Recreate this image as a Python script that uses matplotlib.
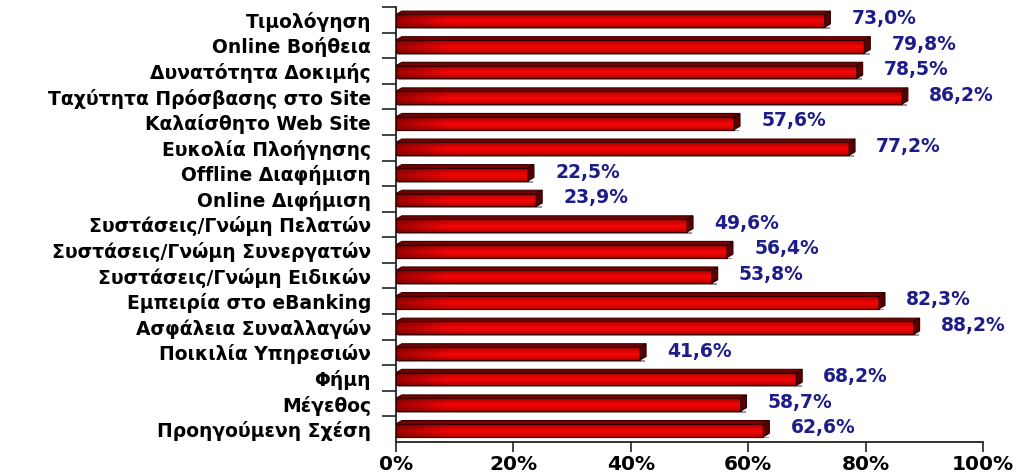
import matplotlib
matplotlib.use("Agg")
import matplotlib.pyplot as plt
import numpy as np
from matplotlib.patches import Polygon, Rectangle
from matplotlib.ticker import FixedLocator

plt.rcParams['font.family'] = ['DejaVu Sans']

categories = [
    "Τιμολόγηση", "Online Βοήθεια", "Δυνατότητα Δοκιμής",
    "Ταχύτητα Πρόσβασης στο Site", "Καλαίσθητο Web Site", "Ευκολία Πλοήγησης",
    "Offline Διαφήμιση", "Online Διφήμιση", "Συστάσεις/Γνώμη Πελατών",
    "Συστάσεις/Γνώμη Συνεργατών", "Συστάσεις/Γνώμη Ειδικών",
    "Εμπειρία στο eBanking", "Ασφάλεια Συναλλαγών", "Ποικιλία Υπηρεσιών",
    "Φήμη", "Μέγεθος", "Προηγούμενη Σχέση",
]
values = [73.0, 79.8, 78.5, 86.2, 57.6, 77.2, 22.5, 23.9, 49.6, 56.4,
          53.8, 82.3, 88.2, 41.6, 68.2, 58.7, 62.6]
value_labels = ["73,0%", "79,8%", "78,5%", "86,2%", "57,6%", "77,2%", "22,5%",
                "23,9%", "49,6%", "56,4%", "53,8%", "82,3%", "88,2%", "41,6%",
                "68,2%", "58,7%", "62,6%"]
xticks = [0, 20, 40, 60, 80, 100]
xtick_labels = ["0%", "20%", "40%", "60%", "80%", "100%"]

W, H = 1016, 474
fig = plt.figure(figsize=(W / 100, H / 100), dpi=100)
ax = fig.add_axes([396 / W, 1 - 442 / H, (983 - 396) / W, (442 - 7) / H])

n = len(categories)
ypos = np.arange(n)
ax.set_xlim(0, 100)
ax.set_ylim(n - 0.5, -0.5)

gx = np.linspace(0, 1, 300)
gy = np.linspace(0, 1, 40)
GX, GY = np.meshgrid(gx, gy)

bh = 0.5
dx = 1.0
dy = 0.13
for y, v in zip(ypos, values):
    yc = y + 0.04
    top = yc - bh / 2
    bot = yc + bh / 2
    # shadow under the bar
    ax.add_patch(Rectangle((0.3, bot), v + 0.6, 0.07, facecolor='#9a9a9a',
                           edgecolor='none', zorder=1.5))
    frac_left = np.clip(GX * v / 9.0, 0, 1)
    hx = 0.5 + 0.5 * frac_left
    vy = 1.0 - 0.4 * np.abs(GY - 0.55) * 2
    shade = hx * vy
    img = np.zeros((40, 300, 3))
    img[..., 0] = 0.3 + 0.67 * shade
    img[..., 1] = 0.02 * shade
    img[..., 2] = 0.02 * shade
    im = ax.imshow(img, extent=[0, v, bot, top], aspect='auto', zorder=2,
                   interpolation='bilinear')
    rect = Rectangle((0, top), v, bh, facecolor='none', edgecolor='#3a0000',
                     linewidth=0.9, zorder=3)
    ax.add_patch(rect)
    im.set_clip_path(rect)
    ax.add_patch(Polygon([(0, top), (v, top), (v + dx, top - dy), (dx, top - dy)],
                         closed=True, facecolor='#7a0000', edgecolor='#3a0000',
                         linewidth=0.8, zorder=3))
    ax.add_patch(Polygon([(v, top), (v + dx, top - dy), (v + dx, bot - dy), (v, bot)],
                         closed=True, facecolor='#5a0000', edgecolor='#2a0000',
                         linewidth=0.8, zorder=3))

for y, v, lab in zip(ypos, values, value_labels):
    ax.text(v + 4.6, y - 0.05, lab, ha='left', va='center', color='#1c1c8a',
            fontsize=13.5, fontweight='bold')

for s in ['top', 'right']:
    ax.spines[s].set_visible(False)
for s in ['left', 'bottom']:
    ax.spines[s].set_color('#222222')
    ax.spines[s].set_linewidth(1.3)

ax.set_yticks(ypos)
ax.set_yticklabels(categories, fontsize=13.5, fontweight='bold')
ax.tick_params(axis='y', which='major', length=0, pad=18)
ax.yaxis.set_minor_locator(FixedLocator(np.arange(-0.5, n - 0.5, 1.0)))
ax.tick_params(axis='y', which='minor', length=10, width=1.2, direction='out',
               color='#222222')

ax.set_xticks(xticks)
ax.set_xticklabels(xtick_labels, fontsize=14.5, fontweight='bold')
ax.tick_params(axis='x', length=7, width=1.2, direction='out', color='#222222', pad=2)

fig.savefig("out.png", dpi=100)
